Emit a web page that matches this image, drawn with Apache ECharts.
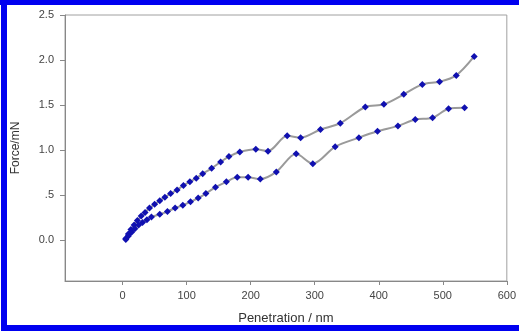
<!DOCTYPE html>
<html>
<head>
<meta charset="utf-8">
<style>
  html, body { margin: 0; padding: 0; background: #fff; overflow: hidden; }
  #chart { width: 519px; height: 335px; }
</style>
<script src="https://cdn.jsdelivr.net/npm/echarts@6/dist/echarts.min.js"></script>
</head>
<body>
<div id="chart"></div>
<script>
// Penetration depth (nm) vs. force (mN), loading and unloading branches
const upperCurve = [
  [5, 0.02], [9, 0.07], [13, 0.12], [18, 0.17], [23, 0.22], [29, 0.27], [35, 0.31],
  [42, 0.36], [50, 0.40], [58, 0.44], [66, 0.48], [75, 0.52], [85, 0.56], [95, 0.61],
  [105, 0.65], [115, 0.69], [125, 0.74], [139, 0.80], [153, 0.87], [166, 0.93],
  [183, 0.98], [208, 1.01], [227, 0.99], [257, 1.16], [278, 1.14], [309, 1.23],
  [340, 1.30], [379, 1.48], [408, 1.51], [439, 1.62], [468, 1.73], [495, 1.76],
  [521, 1.83], [549, 2.04]
];
const lowerCurve = [
  [5, 0.01], [9, 0.05], [14, 0.09], [19, 0.13], [25, 0.17], [31, 0.20], [38, 0.23],
  [45, 0.26], [58, 0.29], [70, 0.32], [82, 0.36], [94, 0.39], [106, 0.43], [118, 0.47],
  [130, 0.52], [145, 0.59], [162, 0.65], [179, 0.70], [196, 0.70], [215, 0.68],
  [240, 0.76], [271, 0.96], [297, 0.85], [332, 1.04], [369, 1.14], [398, 1.21],
  [430, 1.27], [457, 1.34], [484, 1.36], [509, 1.46], [534, 1.47]
];
const xTicks = [0, 100, 200, 300, 400, 500, 600];
const yTicks = [0, 0.5, 1.0, 1.5, 2.0, 2.5];

const FONT = '"Liberation Sans", Arial, sans-serif';
const lineColor = '#9a9a9a';
const markerColor = '#1010b0';
const frameBlue = '#0000f0';

function curveSeries(data) {
  return {
    type: 'line',
    data: data,
    smooth: 0.3,
    symbol: 'diamond',
    symbolSize: 7,
    lineStyle: { color: lineColor, width: 2 },
    itemStyle: { color: markerColor },
    z: 3
  };
}

// blue frame strips: top, left, bottom
function strip(x, y, w, h) {
  return {
    type: 'rect',
    shape: { x: x, y: y, width: w, height: h },
    style: { fill: frameBlue },
    silent: true,
    z: 100
  };
}

const chart = echarts.init(document.getElementById('chart'));
chart.setOption({
  animation: false,
  backgroundColor: '#ffffff',
  grid: {
    left: 65, top: 15, right: 12, bottom: 54,
    show: true, borderColor: '#a0a0a0', borderWidth: 1
  },
  xAxis: {
    type: 'value',
    min: -90, max: 600,
    name: 'Penetration / nm',
    nameLocation: 'middle',
    nameGap: 31,
    nameTextStyle: { fontFamily: FONT, fontSize: 13, color: '#333' },
    splitLine: { show: false },
    axisLine: { show: true, onZero: false, lineStyle: { color: '#888', width: 1 } },
    axisTick: { show: true, length: 4, customValues: xTicks, lineStyle: { color: '#888' } },
    axisLabel: {
      customValues: xTicks,
      margin: 9,
      fontFamily: FONT, fontSize: 11, color: '#444'
    }
  },
  yAxis: {
    type: 'value',
    min: -0.45, max: 2.5,
    name: 'Force/mN',
    nameLocation: 'middle',
    nameGap: 43,
    nameRotate: 90,
    nameTextStyle: { fontFamily: FONT, fontSize: 12, color: '#333' },
    splitLine: { show: false },
    axisLine: { show: true, onZero: false, lineStyle: { color: '#888', width: 1 } },
    axisTick: { show: true, length: 5, customValues: yTicks, lineStyle: { color: '#888' } },
    axisLabel: {
      customValues: yTicks,
      margin: 11,
      fontFamily: FONT, fontSize: 11, color: '#444',
      formatter: function (v) {
        if (v === 0) return '0.0';
        if (Math.abs(v - 0.5) < 1e-9) return '.5';
        return v.toFixed(1);
      }
    }
  },
  graphic: [
    strip(0, 0, 519, 5),
    strip(1, 0, 6, 331),
    strip(1, 325, 518, 6)
  ],
  series: [curveSeries(upperCurve), curveSeries(lowerCurve)]
});
</script>
</body>
</html>
